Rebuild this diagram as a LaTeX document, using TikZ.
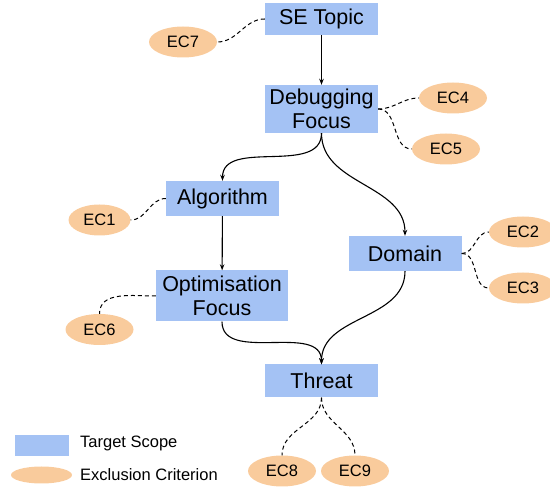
\documentclass[tikz,border=0pt]{standalone}
\usepackage{fontspec}
\setmainfont{Liberation Sans}
\usetikzlibrary{arrows.meta,shapes.geometric}
\definecolor{scopeblue}{HTML}{A4C2F4}
\definecolor{exclorange}{HTML}{F9CB9C}
\begin{document}
\begin{tikzpicture}[x=1pt,y=-1pt,
 scopebox/.style={fill=scopeblue,draw=none,inner sep=0pt,align=center,font=\fontsize{21.5}{24.5}\selectfont},
 excl/.style={ellipse,fill=exclorange,draw=none,inner sep=0pt,minimum width=68pt,minimum height=31pt,font=\fontsize{16.5}{19}\selectfont},
 legtext/.style={anchor=west,inner sep=0pt,font=\fontsize{16.5}{19}\selectfont},
 flow/.style={line width=1.1pt,-{Stealth[length=6pt,width=4.5pt]}},
 link/.style={line width=1pt,dash pattern=on 4pt off 3pt}]
\useasboundingbox (0,0) rectangle (550,489);
% scope boxes
\node[scopebox,minimum width=113pt,minimum height=32pt] (se) at (321.5,19) {SE Topic};
\node[scopebox,minimum width=113pt,minimum height=48pt] (dbg) at (321.5,109) {Debugging\\Focus};
\node[scopebox,minimum width=113pt,minimum height=35pt] (alg) at (222.5,198.5) {Algorithm};
\node[scopebox,minimum width=132pt,minimum height=51pt] (opt) at (222,296) {Optimisation\\Focus};
\node[scopebox,minimum width=113pt,minimum height=35pt] (dom) at (405,253.5) {Domain};
\node[scopebox,minimum width=113pt,minimum height=33pt] (thr) at (321.5,381) {Threat};
% exclusion criteria
\node[excl] (ec7) at (183,42) {EC7};
\node[excl] (ec4) at (453,98) {EC4};
\node[excl] (ec5) at (446,149) {EC5};
\node[excl,minimum width=62pt] (ec1) at (99.5,220) {EC1};
\node[excl] (ec6) at (99.5,329.5) {EC6};
\node[excl] (ec2) at (523,232) {EC2};
\node[excl] (ec3) at (523,288) {EC3};
\node[excl] (ec8) at (282,471) {EC8};
\node[excl] (ec9) at (355,471) {EC9};
% flow
\draw[flow] (se) -- (dbg);
\draw[flow] (dbg.south) to[out=-90,in=90] (alg.north);
\draw[flow] (dbg.south) to[out=-90,in=90] (dom.north);
\draw[flow] (alg) -- (opt);
\draw[flow] (opt.south) to[out=-90,in=90] (thr.north);
\draw[flow] (dom.south) to[out=-90,in=90] (thr.north);
% exclusion links
\draw[link] (se.west) to[out=180,in=0] (ec7.east);
\draw[link] (dbg.east) to[out=0,in=180] (ec4.west);
\draw[link] (dbg.east) to[out=0,in=180] (ec5.west);
\draw[link] (alg.west) to[out=180,in=0] (ec1.east);
\draw[link] (opt.west) to[out=180,in=90] (ec6.north);
\draw[link] (dom.east) to[out=0,in=180] (ec2.west);
\draw[link] (dom.east) to[out=0,in=180] (ec3.west);
\draw[link] (thr.south) to[out=-90,in=90] (ec8.north);
\draw[link] (thr.south) to[out=-90,in=90] (ec9.north);
% legend
\node[scopebox,minimum width=54pt,minimum height=21pt] (lgscope) at (42,446) {};
\node[legtext] (lgscopetext) at (80,443) {Target Scope};
\node[excl,minimum width=61pt,minimum height=17pt] (lgexcl) at (41.5,475) {};
\node[legtext] (lgexcltext) at (80,475) {Exclusion Criterion};
\end{tikzpicture}
\end{document}
